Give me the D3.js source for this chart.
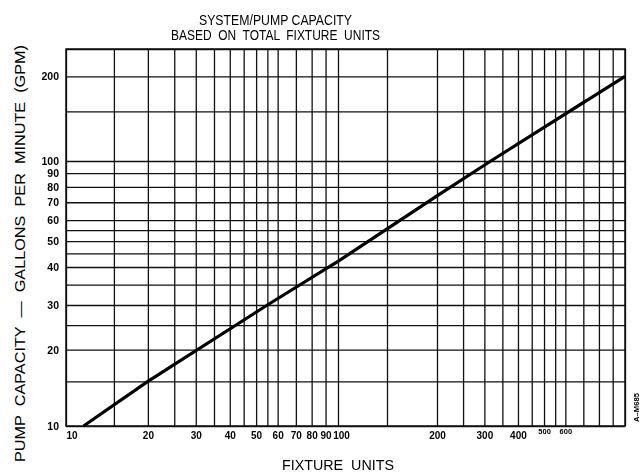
<!DOCTYPE html>
<html>
<head>
<meta charset="utf-8">
<script src="https://cdn.jsdelivr.net/npm/d3@7/dist/d3.min.js"></script>
<style>
  html, body { margin: 0; padding: 0; background: #fff; }
  svg { display: block; -webkit-font-smoothing: antialiased; }
  .cad { font-family: "Liberation Sans", Arial, sans-serif; font-weight: normal; fill: #000; }
  .tick text { font-family: "Liberation Sans", Arial, sans-serif; font-weight: bold; fill: #000; }
  .labels { opacity: 0.999; will-change: opacity; }
</style>
</head>
<body>
<svg id="chart" width="640" height="473"></svg>
<script>
// Grid values (fixture units across, gallons per minute up)
const xGrid = [10, 15, 20, 25, 30, 35, 40, 45, 50, 55, 60, 70, 80, 90, 100,
               150, 200, 250, 300, 350, 400, 450, 500, 550, 600, 700, 800, 900, 1000];
const yGrid = [10, 15, 20, 25, 30, 35, 40, 45, 50, 55, 60, 70, 80, 90, 100, 150, 200, 250];

// Labelled ticks
const xTickLabels = [10, 20, 30, 40, 50, 60, 70, 80, 90, 100, 200, 300, 400, 500, 600];
const yTickLabels = [10, 20, 30, 40, 50, 60, 70, 80, 90, 100, 200];

// Capacity curve: total fixture units vs. required pump capacity (GPM)
const fixtureUnits = [11.6, 20, 55, 100, 200, 317, 1000];
const pumpGpm      = [10,   15, 30, 42,  74,  100, 200];

const svg = d3.select("#chart");
const plotLeft = 66, plotRight = 625, plotTop = 49, plotBottom = 426;

// Log-scaled paper, drawn by hand-ruled decades
const x = d3.scaleLog()
  .domain([10, 100, 150, 200, 1000])
  .range([plotLeft, 338, 387, 437, plotRight]);
const y = d3.scaleLog()
  .domain([10, 30, 40, 100, 250])
  .range([plotBottom, 305, 267, 161, plotTop]);

const ink = "#111";

// Vertical grid lines
svg.append("g")
  .attr("transform", `translate(0,${plotBottom})`)
  .call(d3.axisBottom(x).tickValues(xGrid).tickSize(-(plotBottom - plotTop)).tickFormat(""))
  .call(g => g.select(".domain").remove())
  .call(g => g.selectAll("line").attr("stroke", ink).attr("stroke-width", 1.3));

// Horizontal grid lines
svg.append("g")
  .attr("transform", `translate(${plotLeft},0)`)
  .call(d3.axisLeft(y).tickValues(yGrid).tickSize(-(plotRight - plotLeft)).tickFormat(""))
  .call(g => g.select(".domain").remove())
  .call(g => g.selectAll("line").attr("stroke", ink).attr("stroke-width", 1.3));

// Frame
svg.append("rect")
  .attr("x", plotLeft).attr("y", plotTop)
  .attr("width", plotRight - plotLeft).attr("height", plotBottom - plotTop)
  .attr("fill", "none").attr("stroke", ink).attr("stroke-width", 1.5);

// X tick labels
const xAxis = svg.append("g")
  .attr("class", "labels")
  .attr("transform", `translate(0,${plotBottom})`)
  .call(d3.axisBottom(x).tickValues(xTickLabels).tickSize(0).tickPadding(6).tickFormat(d3.format("d")));
xAxis.select(".domain").remove();
xAxis.selectAll(".tick text")
  .attr("font-size", d => d >= 500 ? 7.5 : 10)
  .attr("dy", d => d >= 500 ? "0.2em" : "0.71em")
  .attr("dx", d => d === 100 ? 3 : 0)
  .attr("text-anchor", (d, i) => i === 0 ? "start" : "middle");

// Y tick labels
const yAxis = svg.append("g")
  .attr("class", "labels")
  .attr("transform", `translate(${plotLeft},0)`)
  .call(d3.axisLeft(y).tickValues(yTickLabels).tickSize(0).tickPadding(7).tickFormat(d3.format("d")));
yAxis.select(".domain").remove();
yAxis.selectAll(".tick text").attr("font-size", 10.5);

// Capacity curve
const pts = fixtureUnits.map((f, i) => [f, pumpGpm[i]]);
svg.append("path")
  .datum(pts)
  .attr("fill", "none")
  .attr("stroke", "#000")
  .attr("stroke-width", 3.2)
  .attr("stroke-linecap", "butt")
  .attr("d", d3.line().x(d => x(d[0])).y(d => y(d[1])));

// Titles
svg.append("text").attr("class", "cad")
  .attr("x", 275.5).attr("y", 24.5).attr("text-anchor", "middle")
  .attr("font-size", 14).attr("textLength", 153).attr("lengthAdjust", "spacingAndGlyphs")
  .text("SYSTEM/PUMP CAPACITY");
svg.append("text").attr("class", "cad")
  .attr("x", 275.5).attr("y", 39.5).attr("text-anchor", "middle")
  .attr("font-size", 14).attr("textLength", 209).attr("lengthAdjust", "spacingAndGlyphs")
  .style("white-space", "pre")
  .text("BASED  ON  TOTAL  FIXTURE  UNITS");

// Axis titles
svg.append("text").attr("class", "cad")
  .attr("x", 338).attr("y", 470).attr("text-anchor", "middle")
  .attr("font-size", 14.5).attr("textLength", 112).attr("lengthAdjust", "spacingAndGlyphs")
  .style("white-space", "pre")
  .text("FIXTURE  UNITS");
svg.append("text").attr("class", "cad")
  .attr("transform", "translate(25,253.5) rotate(-90)")
  .attr("text-anchor", "middle")
  .attr("font-size", 14.5).attr("textLength", 417).attr("lengthAdjust", "spacingAndGlyphs")
  .style("white-space", "pre")
  .text("PUMP  CAPACITY  \u2014  GALLONS  PER  MINUTE  (GPM)");

// Drawing number
svg.append("text")
  .attr("transform", "translate(639,407.5) rotate(-90)")
  .attr("text-anchor", "middle")
  .attr("font-family", "Liberation Sans, Arial, sans-serif")
  .attr("font-weight", "bold")
  .attr("font-size", 8).attr("textLength", 29).attr("lengthAdjust", "spacingAndGlyphs")
  .text("A\u2013M685");
</script>
</body>
</html>
